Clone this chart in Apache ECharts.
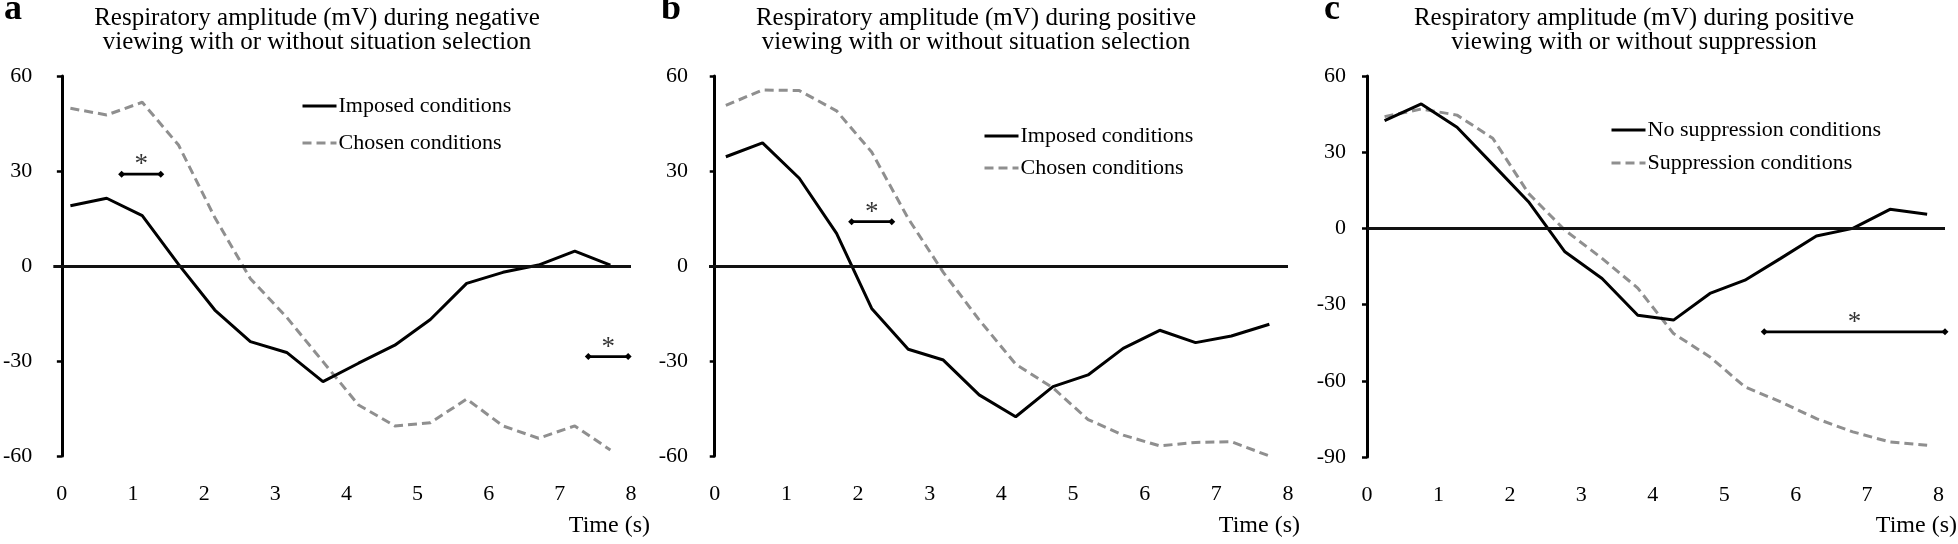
<!DOCTYPE html>
<html><head><meta charset="utf-8">
<script src="https://cdn.jsdelivr.net/npm/echarts@6/dist/echarts.min.js"></script>
<style>html,body{margin:0;padding:0;background:#fff}#c{width:1958px;height:544px}</style>
</head><body><div id="c"></div>
<script>
// ---- data ----
const xTickLabels = [0, 1, 2, 3, 4, 5, 6, 7, 8];

const timesA = [0.12, 0.63, 1.13, 1.64, 2.15, 2.65, 3.16, 3.67, 4.17, 4.68, 5.18, 5.69, 6.2, 6.7, 7.21, 7.71];
const imposedA = [19.0, 21.4, 15.9, 0.5, -13.9, -23.9, -27.3, -36.5, -30.7, -25.0, -16.9, -5.5, -2.0, 0.3, 4.7, 0.3];
const chosenA = [49.8, 47.7, 51.7, 38.2, 15.3, -4.0, -16.2, -30.2, -43.9, -50.5, -49.5, -42.0, -50.5, -54.4, -50.5, -58.1];

const timesB = [0.155, 0.667, 1.18, 1.70, 2.19, 2.70, 3.19, 3.69, 4.20, 4.72, 5.21, 5.70, 6.21, 6.71, 7.21, 7.74];
const imposedB = [34.5, 38.9, 27.7, 10.3, -13.4, -26.3, -29.7, -40.7, -47.6, -38.1, -34.4, -26.0, -20.3, -24.2, -22.1, -18.4];
const chosenB = [50.7, 55.6, 55.4, 49.0, 36.0, 15.0, -2.0, -17.0, -31.0, -38.5, -48.5, -53.4, -56.8, -55.7, -55.5, -60.0];

const timesC = [0.246, 0.76, 1.26, 1.76, 2.26, 2.77, 3.29, 3.79, 4.29, 4.80, 5.29, 5.79, 6.29, 6.80, 7.32, 7.84];
const noSuppC = [42.4, 49.0, 39.8, 25.2, 10.5, -9.2, -19.7, -34.2, -36.1, -25.6, -20.4, -11.8, -3.0, 0.0, 7.5, 5.6];
const suppC = [44.0, 47.0, 44.6, 35.5, 13.8, -0.7, -11.8, -23.5, -41.4, -50.6, -62.4, -68.3, -74.9, -80.1, -84.1, -85.4];

// significance brackets: [start time, end time, value]
const sigA = [[0.84, 1.39, 29.0], [7.40, 7.96, -28.6]];
const sigB = [[1.91, 2.47, 14.0]];
const sigC = [[5.56, 8.09, -40.7]];

const titleA = 'Respiratory amplitude (mV) during negative\nviewing with or without situation selection';
const titleB = 'Respiratory amplitude (mV) during positive\nviewing with or without situation selection';
const titleC = 'Respiratory amplitude (mV) during positive\nviewing with or without suppression';
const namesAB = ['Imposed conditions', 'Chosen conditions'];
const namesC = ['No suppression conditions', 'Suppression conditions'];

// ---- chart ----
const chart = echarts.init(document.getElementById('c'), null, { renderer: 'canvas' });
const FONT = '"Liberation Serif", "Times New Roman", serif';
const zip = (t, v) => t.map((x, i) => [x, v[i]]);

const panels = [
  { grid: { left: 51, top: 76, width: 580, height: 380 }, xmin: -0.12, xmax: 8, ymin: -60, ymax: 60,
    lines: [[namesAB[0], timesA, imposedA], [namesAB[1], timesA, chosenA]], sig: sigA,
    legend: { left: 301, top: 95, itemGap: 15 }, title: titleA, tx: 317, label: 'a', lx: 4, time: 650 },
  { grid: { left: 709, top: 76, width: 579, height: 380 }, xmin: -0.08, xmax: 8, ymin: -60, ymax: 60,
    lines: [[namesAB[0], timesB, imposedB], [namesAB[1], timesB, chosenB]], sig: sigB,
    legend: { left: 983, top: 125, itemGap: 10 }, title: titleB, tx: 976, label: 'b', lx: 661, time: 1300 },
  { grid: { left: 1367, top: 76, width: 578, height: 381 }, xmin: 0, xmax: 8.09, ymin: -90, ymax: 60,
    lines: [[namesC[0], timesC, noSuppC], [namesC[1], timesC, suppC]], sig: sigC,
    legend: { left: 1610, top: 119, itemGap: 11 }, title: titleC, tx: 1634, label: 'c', lx: 1324, time: 1957 }
];

const grid = [], xAxis = [], yAxis = [], series = [], legend = [], graphic = [];
panels.forEach((p, i) => {
  grid.push(p.grid);
  xAxis.push({
    type: 'value', gridIndex: i, min: p.xmin, max: p.xmax,
    axisLine: { show: false }, axisTick: { show: false }, splitLine: { show: false },
    axisLabel: { customValues: xTickLabels, margin: 27, color: '#000', fontFamily: FONT, fontSize: 22 }
  });
  yAxis.push({
    type: 'value', gridIndex: i, min: p.ymin, max: p.ymax, interval: 30,
    axisLine: { show: true, lineStyle: { color: '#000', width: 3 } },
    axisTick: { show: true, length: 5, lineStyle: { color: '#000', width: 2.5 } },
    splitLine: { show: false },
    axisLabel: { margin: 21, color: '#000', fontFamily: FONT, fontSize: 22 }
  });
  p.lines.forEach((ln, k) => {
    const s = {
      name: ln[0], type: 'line', xAxisIndex: i, yAxisIndex: i, data: zip(ln[1], ln[2]),
      symbol: 'none', animation: false, z: k === 0 ? 4 : 3,
      lineStyle: k === 0 ? { color: '#000', width: 3 } : { color: '#8f8f8f', width: 3, type: [9, 5] },
      itemStyle: { color: k === 0 ? '#000' : '#8f8f8f' }
    };
    if (k === 0) {
      s.markLine = { silent: true, symbol: 'none', animation: false, label: { show: false },
        lineStyle: { color: '#111', width: 3.2, type: 'solid' }, data: [{ yAxis: 0 }] };
    }
    series.push(s);
  });
  p.sig.forEach(sg => {
    series.push({ type: 'line', xAxisIndex: i, yAxisIndex: i, data: [[sg[0], sg[2]], [sg[1], sg[2]]],
      symbol: 'diamond', symbolSize: 7, clip: false, animation: false, z: 5,
      lineStyle: { color: '#000', width: 2.8 }, itemStyle: { color: '#000' } });
    series.push({ type: 'scatter', xAxisIndex: i, yAxisIndex: i, data: [[(sg[0] + sg[1]) / 2, sg[2]]],
      symbolSize: 0, clip: false, animation: false, z: 5,
      label: { show: true, position: 'inside', offset: [0, -9], formatter: '*', color: '#000', fontFamily: FONT, fontSize: 27 } });
  });
  legend.push({
    data: p.lines.map(l => l[0]), orient: 'vertical', left: p.legend.left, top: p.legend.top,
    itemGap: p.legend.itemGap, itemWidth: 34, itemHeight: 14, selectedMode: false, padding: 0,
    itemStyle: { opacity: 0, borderWidth: 0 },
    lineStyle: { width: 3 },
    textStyle: { color: '#000', fontFamily: FONT, fontSize: 22, padding: [0, 0, 0, -3] }
  });
  graphic.push({ type: 'text', x: p.tx, y: 6, style: { text: p.title, fontFamily: FONT, fontSize: 25,
    lineHeight: 24, fill: '#000', align: 'center', verticalAlign: 'top' } });
  graphic.push({ type: 'text', x: p.lx, y: -8, style: { text: p.label, fontFamily: FONT, fontSize: 36,
    fontWeight: 'bold', fill: '#000', align: 'left', verticalAlign: 'top' } });
  graphic.push({ type: 'text', x: p.time, y: 526, style: { text: 'Time (s)', fontFamily: FONT, fontSize: 24,
    fill: '#000', align: 'right', verticalAlign: 'middle' } });
});

chart.setOption({ backgroundColor: '#fff', animation: false, grid, xAxis, yAxis, series, legend, graphic });
</script></body></html>
